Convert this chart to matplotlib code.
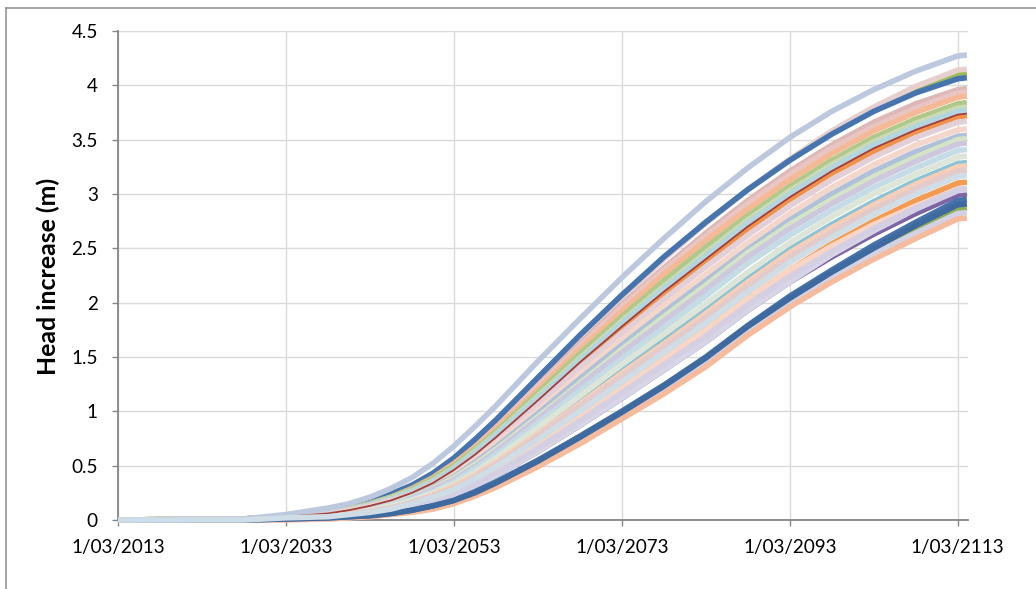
import matplotlib
matplotlib.use("Agg")
import matplotlib.pyplot as plt
from matplotlib.lines import Line2D

plt.rcParams['font.family'] = ['Lato', 'DejaVu Sans']

years = [2013, 2028, 2033, 2038, 2040.5, 2043, 2045.5, 2048, 2050.5, 2053, 2055.5, 2058,
         2063, 2068, 2073, 2078, 2083, 2088, 2093, 2098, 2103, 2108, 2113, 2114.1]

# head increase (m) for each run
h01 = [0, 0.01, 0.03, 0.07, 0.11, 0.16, 0.22, 0.30, 0.41, 0.54, 0.71, 0.89, 1.28, 1.67, 2.04, 2.40, 2.73, 3.04, 3.32, 3.58, 3.80, 3.99, 4.14, 4.15]
h02 = [0, 0.01, 0.03, 0.08, 0.12, 0.17, 0.23, 0.31, 0.42, 0.56, 0.73, 0.91, 1.30, 1.69, 2.06, 2.41, 2.74, 3.04, 3.31, 3.56, 3.78, 3.96, 4.10, 4.11]
h03 = [0, 0.01, 0.03, 0.08, 0.12, 0.17, 0.24, 0.32, 0.43, 0.57, 0.74, 0.92, 1.31, 1.70, 2.07, 2.42, 2.74, 3.04, 3.31, 3.55, 3.76, 3.93, 4.06, 4.07]
h04 = [0, 0.01, 0.03, 0.07, 0.11, 0.16, 0.22, 0.30, 0.41, 0.54, 0.70, 0.87, 1.25, 1.62, 1.98, 2.32, 2.64, 2.94, 3.21, 3.45, 3.66, 3.83, 3.96, 3.97]
h05 = [0, 0.01, 0.03, 0.07, 0.11, 0.16, 0.22, 0.30, 0.40, 0.53, 0.69, 0.86, 1.23, 1.60, 1.96, 2.30, 2.61, 2.91, 3.18, 3.42, 3.62, 3.79, 3.93, 3.94]
h06 = [0, 0.01, 0.03, 0.07, 0.10, 0.15, 0.21, 0.29, 0.39, 0.52, 0.67, 0.84, 1.20, 1.57, 1.92, 2.26, 2.57, 2.86, 3.13, 3.37, 3.58, 3.75, 3.89, 3.90]
h07 = [0, 0.01, 0.03, 0.07, 0.10, 0.15, 0.21, 0.28, 0.38, 0.50, 0.65, 0.81, 1.17, 1.53, 1.87, 2.20, 2.51, 2.80, 3.07, 3.31, 3.52, 3.69, 3.83, 3.84]
h08 = [0, 0.01, 0.03, 0.07, 0.10, 0.14, 0.20, 0.27, 0.36, 0.48, 0.63, 0.79, 1.14, 1.49, 1.83, 2.15, 2.46, 2.76, 3.03, 3.27, 3.48, 3.65, 3.79, 3.80]
h09 = [0, 0.01, 0.03, 0.06, 0.09, 0.14, 0.19, 0.26, 0.35, 0.47, 0.62, 0.78, 1.12, 1.47, 1.81, 2.13, 2.43, 2.73, 3.00, 3.24, 3.45, 3.62, 3.76, 3.77]
h10 = [0, 0.01, 0.03, 0.06, 0.09, 0.13, 0.18, 0.25, 0.34, 0.46, 0.60, 0.75, 1.09, 1.43, 1.76, 2.08, 2.38, 2.68, 2.95, 3.19, 3.39, 3.57, 3.71, 3.72]
h11 = [0, 0.01, 0.03, 0.06, 0.09, 0.13, 0.18, 0.24, 0.33, 0.44, 0.58, 0.73, 1.06, 1.40, 1.72, 2.03, 2.33, 2.62, 2.89, 3.13, 3.34, 3.52, 3.66, 3.67]
h12 = [0, 0.01, 0.03, 0.05, 0.08, 0.12, 0.17, 0.23, 0.31, 0.42, 0.55, 0.70, 1.01, 1.34, 1.66, 1.97, 2.26, 2.55, 2.82, 3.06, 3.27, 3.45, 3.59, 3.60]
h13 = [0, 0.00, 0.02, 0.05, 0.07, 0.11, 0.16, 0.22, 0.30, 0.40, 0.53, 0.67, 0.98, 1.30, 1.61, 1.91, 2.20, 2.49, 2.76, 3.00, 3.21, 3.39, 3.53, 3.54]
h14 = [0, 0.00, 0.02, 0.05, 0.08, 0.11, 0.15, 0.21, 0.29, 0.39, 0.51, 0.65, 0.95, 1.26, 1.57, 1.87, 2.16, 2.46, 2.72, 2.95, 3.16, 3.34, 3.50, 3.51]
h15 = [0, 0.00, 0.02, 0.05, 0.07, 0.10, 0.14, 0.20, 0.28, 0.37, 0.49, 0.63, 0.93, 1.24, 1.54, 1.83, 2.12, 2.42, 2.68, 2.91, 3.12, 3.30, 3.46, 3.47]
h16 = [0, 0.00, 0.02, 0.04, 0.07, 0.10, 0.14, 0.19, 0.26, 0.35, 0.47, 0.60, 0.89, 1.19, 1.48, 1.77, 2.06, 2.36, 2.62, 2.85, 3.06, 3.24, 3.40, 3.41]
h17 = [0, 0.00, 0.02, 0.04, 0.06, 0.09, 0.13, 0.18, 0.25, 0.33, 0.44, 0.57, 0.85, 1.14, 1.43, 1.71, 1.99, 2.28, 2.55, 2.79, 3.00, 3.18, 3.34, 3.35]
h18 = [0, 0.00, 0.02, 0.04, 0.06, 0.09, 0.12, 0.17, 0.24, 0.32, 0.42, 0.54, 0.81, 1.10, 1.38, 1.65, 1.93, 2.22, 2.49, 2.72, 2.93, 3.12, 3.28, 3.29]
h19 = [0, 0.00, 0.02, 0.04, 0.06, 0.08, 0.11, 0.16, 0.23, 0.31, 0.41, 0.53, 0.79, 1.07, 1.35, 1.62, 1.90, 2.19, 2.46, 2.69, 2.90, 3.09, 3.25, 3.26]
h20 = [0, 0.00, 0.02, 0.03, 0.05, 0.08, 0.11, 0.16, 0.22, 0.29, 0.39, 0.51, 0.77, 1.05, 1.32, 1.59, 1.86, 2.15, 2.42, 2.65, 2.86, 3.05, 3.21, 3.22]
h21 = [0, 0.00, 0.02, 0.03, 0.05, 0.07, 0.10, 0.15, 0.21, 0.28, 0.38, 0.49, 0.74, 1.00, 1.27, 1.54, 1.81, 2.10, 2.37, 2.60, 2.81, 3.00, 3.16, 3.17]
h22 = [0, 0.00, 0.02, 0.03, 0.05, 0.07, 0.09, 0.13, 0.19, 0.26, 0.35, 0.46, 0.70, 0.96, 1.22, 1.48, 1.75, 2.04, 2.30, 2.54, 2.75, 2.94, 3.10, 3.11]
h22p = [0, 0.00, 0.02, 0.03, 0.05, 0.07, 0.09, 0.13, 0.19, 0.26, 0.35, 0.46, 0.70, 0.96, 1.22, 1.48, 1.75, 2.04, 2.30, 2.52, 2.72, 2.89, 3.04, 3.05]
h23 = [0, 0.00, 0.01, 0.03, 0.04, 0.06, 0.08, 0.12, 0.17, 0.24, 0.33, 0.43, 0.66, 0.91, 1.17, 1.43, 1.69, 1.98, 2.24, 2.47, 2.68, 2.87, 3.04, 3.05]
h24 = [0, 0.00, 0.01, 0.02, 0.03, 0.05, 0.07, 0.11, 0.16, 0.22, 0.31, 0.41, 0.63, 0.87, 1.12, 1.38, 1.64, 1.93, 2.19, 2.42, 2.63, 2.82, 2.99, 3.00]
h24p = [0, 0.00, 0.01, 0.02, 0.03, 0.05, 0.07, 0.11, 0.16, 0.22, 0.31, 0.41, 0.63, 0.87, 1.12, 1.38, 1.64, 1.93, 2.19, 2.44, 2.66, 2.86, 3.03, 3.04]
h25 = [0, 0.00, 0.01, 0.02, 0.03, 0.04, 0.06, 0.09, 0.13, 0.18, 0.26, 0.35, 0.55, 0.77, 1.00, 1.24, 1.50, 1.79, 2.06, 2.30, 2.53, 2.74, 2.94, 2.95]
h26 = [0, 0.00, 0.01, 0.02, 0.03, 0.04, 0.06, 0.09, 0.13, 0.18, 0.25, 0.34, 0.54, 0.76, 0.99, 1.23, 1.49, 1.78, 2.04, 2.28, 2.50, 2.71, 2.90, 2.91]
h27 = [0, 0.00, 0.01, 0.02, 0.03, 0.04, 0.06, 0.09, 0.13, 0.18, 0.25, 0.34, 0.54, 0.77, 1.00, 1.24, 1.49, 1.78, 2.04, 2.27, 2.49, 2.69, 2.86, 2.87]
h28 = [0, 0.00, 0.01, 0.01, 0.02, 0.04, 0.06, 0.08, 0.12, 0.17, 0.24, 0.33, 0.52, 0.74, 0.97, 1.21, 1.46, 1.75, 2.01, 2.24, 2.45, 2.64, 2.82, 2.83]
h29 = [0, 0.00, 0.00, 0.01, 0.02, 0.03, 0.05, 0.07, 0.10, 0.15, 0.22, 0.30, 0.49, 0.70, 0.93, 1.16, 1.41, 1.70, 1.96, 2.19, 2.40, 2.59, 2.77, 2.78]
h_top = [0, 0.01, 0.05, 0.11, 0.15, 0.21, 0.29, 0.39, 0.52, 0.68, 0.86, 1.05, 1.46, 1.85, 2.23, 2.59, 2.93, 3.24, 3.52, 3.76, 3.96, 4.13, 4.27, 4.28]
h_red = [0, 0.01, 0.03, 0.06, 0.09, 0.13, 0.18, 0.25, 0.34, 0.46, 0.60, 0.76, 1.10, 1.45, 1.78, 2.10, 2.40, 2.70, 2.97, 3.21, 3.42, 3.59, 3.73, 3.74]

# drawing order: saturated runs first, pale runs on top
runs = [h27, h22, h24, h10, h18, h02, h01, h04, h05, h03,
        h06, h07, h08, h09, h11, h12, h13, h14, h15, h16, h17,
        h19, h20, h22p, h24p, h23, h28, h29, h25, h26, h_top, h_red, h21]
colors = ['#8DB056', '#F39B52', '#7D64A2', '#F0934A', '#8CC4D5', '#9BBB59', '#E6CFCD', '#DDB8B7', '#E9C6C4', '#4674AE',
          '#F6B995', '#B0C98A', '#CADBB3', '#B3D5E0', '#E3CFD8', '#F4D6CB', '#AFC1D9', '#D6E4C6', '#CDC8DE', '#C3DCE6', '#DDE5D8',
          '#F7CEB8', '#E3CBCB', '#F8D5C4', '#D7D5E6', '#D4CFE3', '#D3D2E4', '#F6BA9C', '#4672AC', '#3E6A9F', '#BCC8DE', '#A53D3B', '#CFDDE6']
widths = [4.0] * 31 + [1.3, 4.0]

x_ticks = [2013, 2033, 2053, 2073, 2093, 2113]
x_labels = ['1/03/2013', '1/03/2033', '1/03/2053', '1/03/2073', '1/03/2093', '1/03/2113']
y_ticks = [0, 0.5, 1, 1.5, 2, 2.5, 3, 3.5, 4, 4.5]
y_labels = ['0', '0.5', '1', '1.5', '2', '2.5', '3', '3.5', '4', '4.5']

fig = plt.figure(figsize=(10.36, 5.89), dpi=100)
ax = fig.add_axes([118 / 1036, 1 - 520 / 589, 849.7 / 1036, 489 / 589])

for vals, c, w in zip(runs, colors, widths):
    ax.plot(years, vals, color=c, lw=w, solid_capstyle='butt', solid_joinstyle='round',
            clip_on=False, zorder=3)

ax.set_xlim(2013, 2114.2)
ax.set_ylim(0, 4.5)
ax.set_xticks(x_ticks)
ax.set_xticklabels(x_labels)
ax.set_yticks(y_ticks)
ax.set_yticklabels(y_labels)

ax.grid(True, color='#D9D9D9', lw=1.0)
ax.set_axisbelow(True)
for side in ['top', 'right']:
    ax.spines[side].set_visible(False)
for side in ['left', 'bottom']:
    ax.spines[side].set_color('#868686')
    ax.spines[side].set_linewidth(1.3)
    ax.spines[side].set_zorder(2.5)
ax.tick_params(axis='both', colors='#868686', length=4.5, width=1.0, labelcolor='black', labelsize=14.3)
ax.tick_params(axis='x', pad=9.5)
ax.tick_params(axis='y', pad=10)

ylab = fig.text(48 / 1036, 1 - 276 / 589, 'Head increase (m)', rotation=90, ha='center', va='center',
                fontsize=16.5, fontweight='bold')

# size the texts to the lengths measured on the reference
fig.canvas.draw()
r = fig.canvas.get_renderer()
bb = ylab.get_window_extent(r)
ylab.set_fontsize(ylab.get_fontsize() * 197 / bb.height)
w0 = ax.get_xticklabels()[0].get_window_extent(r).width
ax.tick_params(axis='both', labelsize=14.3 * 94 / w0)

# outer chart border (left and top edges are visible)
fig.add_artist(Line2D([5.5 / 1036, 5.5 / 1036], [0, 1 - 8 / 589], color='#8C8C8C', lw=1.1))
fig.add_artist(Line2D([5.5 / 1036, 1], [1 - 8 / 589, 1 - 8 / 589], color='#8C8C8C', lw=1.1))

fig.savefig('out.png', dpi=100)
